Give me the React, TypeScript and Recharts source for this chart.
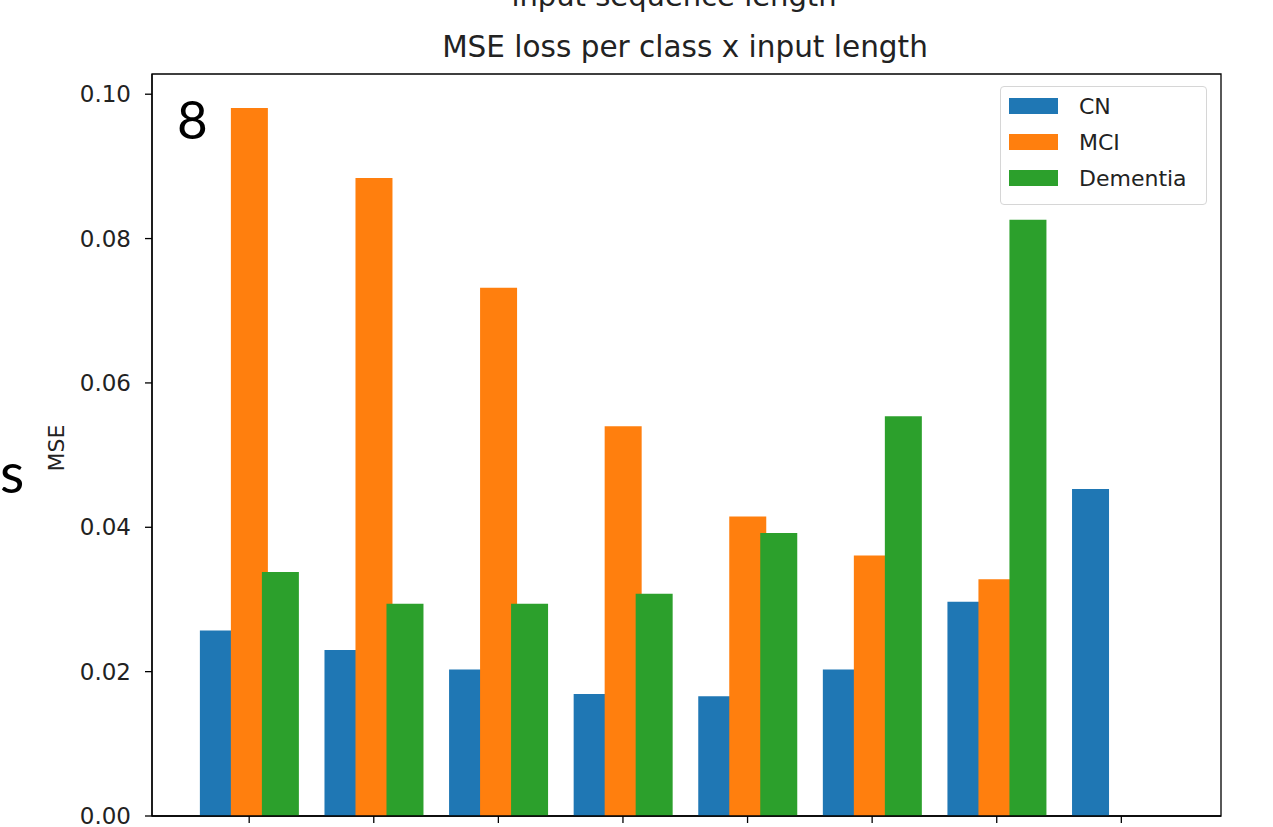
import { Bar, BarChart, Legend, ReferenceArea, XAxis, YAxis } from "recharts";

// loss per class at each input length position (last position only has CN)
const positions = [0, 1, 2, 3, 4, 5, 6, 7];
const cnLoss = [0.0257, 0.023, 0.0203, 0.0169, 0.0166, 0.0203, 0.0297, 0.0453];
const mciLoss = [0.0981, 0.0884, 0.0732, 0.054, 0.0415, 0.0361, 0.0328, null];
const dementiaLoss = [0.0338, 0.0294, 0.0294, 0.0308, 0.0392, 0.0554, 0.0826, null];
const yTicks = [0, 0.02, 0.04, 0.06, 0.08, 0.1];
const classNames = ["CN", "MCI", "Dementia"] as const;

const COLORS: Record<string, string> = {
  CN: "#1f77b4",
  MCI: "#ff7f0e",
  Dementia: "#2ca02c",
};

const FONT = "'DejaVu Sans', sans-serif";
const TEXT = "#222";
const SPINE = { stroke: "#000", strokeWidth: 1.3 };
const X_DOMAIN: [number, number] = [-0.78, 7.8];
const Y_DOMAIN: [number, number] = [0, 0.1028];

const data = positions.map((pos, i) => ({
  pos,
  CN: cnLoss[i],
  MCI: mciLoss[i],
  Dementia: dementiaLoss[i],
}));

function LegendBox() {
  return (
    <div
      style={{
        boxSizing: "border-box",
        width: 207,
        border: "1px solid #d6d6d6",
        borderRadius: 4,
        background: "rgba(255,255,255,0.85)",
        padding: "1px 8px 8px 8px",
        fontFamily: FONT,
        fontSize: 22,
        color: TEXT,
      }}
    >
      {classNames.map((name) => (
        <div key={name} style={{ display: "flex", alignItems: "center", height: 36 }}>
          <span
            style={{
              display: "inline-block",
              width: 49,
              height: 16,
              background: COLORS[name],
              marginRight: 21,
            }}
          />
          <span>{name}</span>
        </div>
      ))}
    </div>
  );
}

export default function App() {
  return (
    <div style={{ position: "absolute", left: 0, top: 0, width: 1273, height: 827, background: "#fff" }}>
      <BarChart
        width={1273}
        height={827}
        data={data}
        margin={{ top: 74, right: 52, bottom: 0, left: 0 }}
        barSize={37}
        barGap={-6}
      >
        <XAxis
          type="number"
          dataKey="pos"
          domain={X_DOMAIN}
          ticks={positions}
          interval={0}
          tickFormatter={() => ""}
          height={11}
          tickSize={7}
          axisLine={SPINE}
          tickLine={SPINE}
        />
        <YAxis
          type="number"
          domain={Y_DOMAIN}
          ticks={yTicks}
          interval={0}
          tickFormatter={(v: number) => v.toFixed(2)}
          width={152}
          tickSize={7}
          tickMargin={14}
          tick={{ fill: TEXT, fontSize: 23, fontFamily: FONT }}
          axisLine={SPINE}
          tickLine={SPINE}
        />
        {classNames.map((name) => (
          <Bar key={name} dataKey={name} name={name} fill={COLORS[name]} isAnimationActive={false} />
        ))}
        {/* full box around the axes */}
        <ReferenceArea
          x1={X_DOMAIN[0]}
          x2={X_DOMAIN[1]}
          y1={Y_DOMAIN[0]}
          y2={Y_DOMAIN[1]}
          ifOverflow="visible"
          fill="none"
          fillOpacity={0}
          stroke="#000"
          strokeWidth={1.3}
        />
        <Legend
          layout="vertical"
          align="center"
          verticalAlign="middle"
          wrapperStyle={{ left: 1000, top: 86, width: 207 }}
          content={() => <LegendBox />}
        />
      </BarChart>
      <svg
        width={1273}
        height={827}
        style={{ position: "absolute", left: 0, top: 0, pointerEvents: "none" }}
      >
        <text x={674} y={6} textAnchor="middle" fontFamily={FONT} fontSize={29} fill={TEXT}>
          input sequence length
        </text>
        <text x={685} y={57} textAnchor="middle" fontFamily={FONT} fontSize={29.5} fill={TEXT}>
          MSE loss per class x input length
        </text>
        <text
          x={56}
          y={448}
          textAnchor="middle"
          dominantBaseline="central"
          transform="rotate(-90 56 448)"
          fontFamily={FONT}
          fontSize={22}
          fill={TEXT}
        >
          MSE
        </text>
        <text x={177} y={139} fontFamily="Lato, sans-serif" fontSize={53} fill="#000">
          8
        </text>
        <text x={0} y={493} fontFamily="Lato, sans-serif" fontSize={56} fill="#000">
          s
        </text>
      </svg>
    </div>
  );
}
